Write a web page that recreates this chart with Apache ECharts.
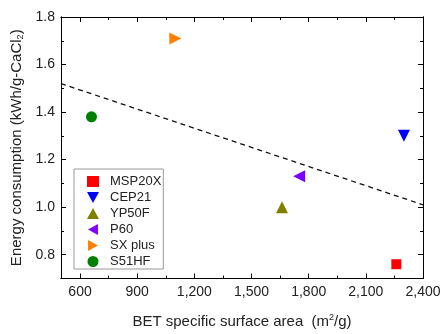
<!DOCTYPE html>
<html>
<head>
<meta charset="utf-8">
<script src="https://cdn.jsdelivr.net/npm/echarts@6/dist/echarts.min.js"></script>
<style>html,body{margin:0;padding:0;background:#fff;}#c{width:445px;height:334px;}</style>
</head>
<body>
<div id="c"></div>
<script>
const seriesNames = ['MSP20X', 'CEP21', 'YP50F', 'P60', 'SX plus', 'S51HF'];
const betArea = [2260, 2300, 1660, 1750, 1100, 660];
const energy = [0.76, 1.30, 1.00, 1.13, 1.71, 1.38];
const trendX = [500, 2400];
const trendY = [1.52, 1.01];
const xMajorTicks = [600, 900, 1200, 1500, 1800, 2100, 2400];
const xMinorTicks = [750, 1050, 1350, 1650, 1950, 2250];
const yMajorTicks = [0.8, 1.0, 1.2, 1.4, 1.6, 1.8];
const yMinorTicks = [0.7, 0.9, 1.1, 1.3, 1.5, 1.7];

const colors = ['#ff0000', '#0000ff', '#808000', '#8000ff', '#ff8000', '#008000'];
const symbols = ['rect', 'triangle', 'triangle', 'triangle', 'triangle', 'circle'];
const rotations = [0, 180, 0, 90, -90, 0];
const sizes = [10, 12, 12, 12, 12, 11];
const legendIcons = ['rect', 'path://M0,0 L10,0 L5,9 Z', 'triangle', 'path://M9,0 L9,10 L0,5 Z', 'path://M0,0 L9,5 L0,10 Z', 'circle'];

const FONT = 'Liberation Sans, Arial, sans-serif';
const X_MIN = 500, X_MAX = 2400, Y_MIN = 0.7, Y_MAX = 1.8;

function xAx(position, ticks, len, main) {
  return {
    type: 'value', min: X_MIN, max: X_MAX, position: position,
    axisLine: { show: true, onZero: false, lineStyle: { color: '#000', width: 1 } },
    axisTick: { show: true, inside: true, length: len, customValues: ticks, lineStyle: { color: '#000' } },
    axisLabel: main ? {
      show: true, customValues: xMajorTicks, fontFamily: FONT, fontSize: 14, color: '#222', margin: 7,
      formatter: v => v.toLocaleString('en-US')
    } : { show: false },
    splitLine: { show: false },
    name: main ? 'BET specific surface area  (m{sup|2}/g)' : '',
    nameLocation: 'middle', nameGap: 35,
    nameTextStyle: { fontFamily: FONT, fontSize: 15, color: '#222',
      rich: { sup: { fontFamily: FONT, fontSize: 9, color: '#222', verticalAlign: 'top', padding: [0, 0, 7, 0] } } }
  };
}
function yAx(position, ticks, len, main) {
  return {
    type: 'value', min: Y_MIN, max: Y_MAX, position: position,
    axisLine: { show: true, onZero: false, lineStyle: { color: '#000', width: 1 } },
    axisTick: { show: true, inside: true, length: len, customValues: ticks, lineStyle: { color: '#000' } },
    axisLabel: main ? {
      show: true, customValues: yMajorTicks, fontFamily: FONT, fontSize: 14, color: '#222', margin: 6,
      formatter: v => v.toFixed(1)
    } : { show: false },
    splitLine: { show: false },
    name: main ? 'Energy consumption (kWh/g-CaCl{sub|2})' : '',
    nameLocation: 'middle', nameGap: 36, nameRotate: 90,
    nameTextStyle: { fontFamily: FONT, fontSize: 15, color: '#222',
      rich: { sub: { fontFamily: FONT, fontSize: 9, color: '#222', verticalAlign: 'bottom', padding: [7, 0, 0, 0] } } }
  };
}

const series = seriesNames.map((n, i) => ({
  name: n, type: 'scatter', xAxisIndex: 0, yAxisIndex: 0,
  symbol: symbols[i], symbolRotate: rotations[i], symbolSize: sizes[i],
  itemStyle: { color: colors[i], opacity: 1 },
  data: [[betArea[i], energy[i]]], z: 5
}));
series.push({
  name: 'fit', type: 'line', xAxisIndex: 0, yAxisIndex: 0, symbol: 'none',
  lineStyle: { color: '#111', width: 1.3, type: [5, 4] },
  data: trendX.map((x, i) => [x, trendY[i]]), z: 3, silent: true
});

const chart = echarts.init(document.getElementById('c'), null, { renderer: 'canvas' });
chart.setOption({
  animation: false,
  backgroundColor: '#fff',
  grid: { left: 61, right: 22, top: 17, bottom: 51, containLabel: false },
  xAxis: [
    xAx('bottom', xMajorTicks, 5, true),
    xAx('bottom', xMinorTicks, 3, false),
    xAx('top', xMajorTicks, 5, false),
    xAx('top', xMinorTicks, 3, false)
  ],
  yAxis: [
    yAx('left', yMajorTicks, 5, true),
    yAx('left', yMinorTicks, 3, false),
    yAx('right', yMajorTicks, 5, false),
    yAx('right', yMinorTicks, 3, false)
  ],
  legend: {
    data: seriesNames.map((n, i) => ({ name: n, icon: legendIcons[i] })),
    orient: 'vertical', left: 74, top: 169,
    padding: [6, 2, 1, 13], itemGap: 3, itemWidth: 12, itemHeight: 11,
    borderColor: '#999', borderWidth: 1, backgroundColor: '#fff',
    textStyle: { fontFamily: FONT, fontSize: 13, lineHeight: 13, color: '#222', padding: [0, 0, 0, 6] }
  },
  series: series
});
</script>
</body>
</html>
